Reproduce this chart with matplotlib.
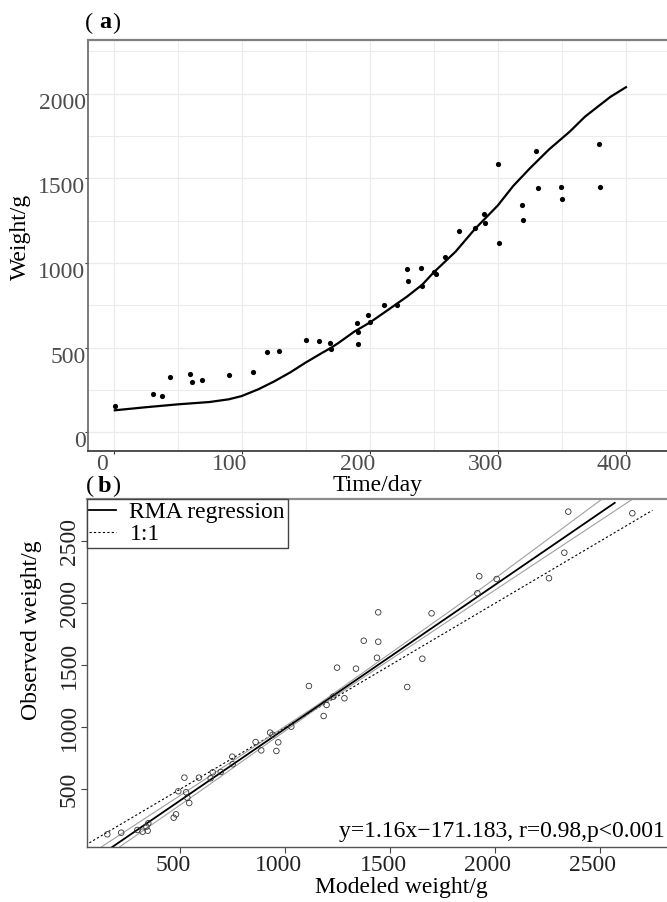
import numpy as np
import matplotlib
matplotlib.use("Agg")
import matplotlib.pyplot as plt
from matplotlib.transforms import ScaledTranslation

plt.rcParams['font.family'] = ['Liberation Serif', 'DejaVu Serif']
plt.rcParams['font.size'] = 16.5

# (a) observed weight over time
obs_day = [1, 31, 38, 44, 60, 61, 69, 90, 109, 120, 129, 150, 160, 169, 170, 190, 191, 191, 199, 200,
           211, 221, 229, 230, 240, 241, 250, 252, 259, 270, 282, 289, 290, 300, 301, 319, 320, 330,
           331, 349, 350, 379, 380]
obs_weight = [155, 228, 216, 329, 344, 295, 307, 338, 356, 472, 482, 545, 537, 529, 492, 644, 592, 523,
              693, 653, 754, 754, 963, 892, 970, 864, 947, 933, 1037, 1191, 1205, 1288, 1234, 1585,
              1118, 1343, 1252, 1660, 1443, 1451, 1380, 1705, 1451]

# (a) simulated growth curve
model_day = [1, 25, 50, 75, 90, 100, 113, 125, 138, 150, 163, 170, 176, 188, 200, 216, 229, 241, 250,
             267, 282, 300, 312, 325, 340, 350, 356, 368, 380, 388, 400]
model_weight = [130, 148, 165, 179, 195, 214, 254, 299, 354, 412, 470, 500, 530, 595, 648, 732, 801,
                872, 945, 1067, 1200, 1340, 1455, 1559, 1671, 1736, 1775, 1864, 1935, 1982, 2038]

# (b) modeled vs observed
modeled = [154, 220, 297, 322, 340, 346, 349, 470, 481, 492, 521, 529, 535, 544, 590, 646, 656, 694,
           749, 751, 860, 887, 929, 941, 959, 968, 1030, 1114, 1184, 1198, 1230, 1248, 1283, 1338,
           1375, 1438, 1444, 1444, 1582, 1654, 1698, 1916, 1925, 2008, 2257, 2330, 2349, 2654]
observed = [137, 150, 172, 158, 198, 166, 226, 271, 298, 484, 594, 476, 432, 389, 594, 589, 637, 640,
            763, 702, 881, 814, 957, 940, 809, 879, 1005, 1333, 1091, 1180, 1247, 1481, 1234, 1473,
            1698, 1561, 1690, 1927, 1325, 1553, 1919, 2081, 2218, 2196, 2202, 2408, 2739, 2726]

rma_slope = 1.16
rma_intercept = -171.183
rma_x = [140, 2570]
one_x = [50, 2750]
band_up_x = [127, 600, 1150, 1900, 2510]
band_up_y = [37, 560, 1175, 2075, 2841]
band_lo_x = [214, 600, 1150, 1900, 2656]
band_lo_y = [37, 490, 1150, 1995, 2841]

W, H = 667, 902
fig = plt.figure(figsize=(W / 100, H / 100), dpi=100)


def box(l, t, r, b):
    return [l / W, 1 - b / H, (r - l) / W, (b - t) / H]


def shift(labels, dx, dy):
    for lab in labels:
        lab.set_transform(lab.get_transform() + ScaledTranslation(dx / 100, dy / 100, fig.dpi_scale_trans))


# ---------- panel a ----------
ax1 = fig.add_axes(box(88.3, 40, 690, 451))
ax1.plot(model_day, model_weight, color='black', lw=1.6, zorder=3)
ax1.scatter(obs_day, obs_weight, s=14, color='black', zorder=4, linewidths=0)
ax1.set_xlim(-19.7, (690 - 114.3) / 1.32)
ax1.set_ylim(-110.4, 2317)
ax1.set_xticks([0, 100, 200, 300, 400])
ax1.set_xticks([50, 150, 250, 350, 450], minor=True)
ax1.set_yticks([0, 500, 1000, 1500, 2000])
ax1.set_yticks([250, 750, 1250, 1750, 2250], minor=True)
ax1.grid(True, which='major', color='#ebebeb', lw=0.9)
ax1.grid(True, which='minor', color='#ebebeb', lw=0.7)
ax1.set_axisbelow(True)
ax1.tick_params(which='major', direction='out', length=2, width=0.8, color='#333333',
                labelcolor='#4d4d4d', labelsize=17, pad=0)
ax1.tick_params(which='minor', length=0)
ax1.spines['right'].set_visible(False)
ax1.spines['top'].set_color('#808080')
ax1.spines['top'].set_linewidth(1.6)
ax1.spines['left'].set_color('#707070')
ax1.spines['left'].set_linewidth(1.3)
ax1.spines['bottom'].set_color('#404040')
ax1.spines['bottom'].set_linewidth(1.3)
shift(ax1.get_xticklabels(), -12, 0)
shift(ax1.get_yticklabels(), 0, -7)

fig.text(20 / W, 1 - 237 / H, 'Weight/g', rotation=90, ha='center', va='center', fontsize=17)
fig.text(378 / W, 1 - 485 / H, 'Time/day', ha='center', va='center', fontsize=17)
fig.text(85 / W, 1 - 23 / H, '(', ha='left', va='center', fontsize=17.5)
fig.text(99 / W, 1 - 23 / H, 'a', ha='left', va='center', fontsize=17.5, fontweight='bold')
fig.text(112 / W, 1 - 23 / H, ')', ha='left', va='center', fontsize=17.5)

# ---------- panel b ----------
ax2 = fig.add_axes(box(86.5, 499, 690, 846.7))
ax2.plot(one_x, one_x, color='black', lw=0.8, ls=(0, (2, 2)), label='1:1', zorder=2)
ax2.plot(band_up_x, band_up_y, color='#a0a0a0', lw=0.8, zorder=2)
ax2.plot(band_lo_x, band_lo_y, color='#a0a0a0', lw=0.8, zorder=2)
rx = np.array(rma_x)
ax2.plot(rx, rma_slope * rx + rma_intercept, color='black', lw=1.3, label='RMA regression', zorder=3)
ax2.scatter(modeled, observed, s=16, facecolors='none', edgecolors='#333333', linewidths=0.6, zorder=4)
ax2.set_xlim(54.8, (690 - 75) / 0.21)
ax2.set_ylim(37.1, 2841)
ax2.set_xticks([500, 1000, 1500, 2000, 2500])
ax2.set_yticks([500, 1000, 1500, 2000, 2500])
ax2.tick_params(direction='out', length=4.3, width=0.8, color='#444444', labelcolor='#222222',
                labelsize=17)
ax2.tick_params(axis='x', pad=1.5)
ax2.tick_params(axis='y', pad=0.5, labelrotation=90)
for lab in ax2.get_yticklabels():
    lab.set_va('center')
ax2.spines['right'].set_visible(False)
ax2.spines['top'].set_color('#8c8c8c')
ax2.spines['top'].set_linewidth(1.6)
for s in ['left', 'bottom']:
    ax2.spines[s].set_color('#555555')
    ax2.spines[s].set_linewidth(1.0)
shift(ax2.get_xticklabels(), -7, 0)

h, l = ax2.get_legend_handles_labels()
leg = ax2.legend(h[::-1], l[::-1], loc='upper left', bbox_to_anchor=(0, 1), borderaxespad=0,
                 fancybox=False, framealpha=1, edgecolor='#444444', fontsize=17,
                 handlelength=1.15, handletextpad=0.55, borderpad=0.12, labelspacing=0.0)
leg.get_frame().set_linewidth(1.0)

fig.text(32 / W, 1 - 630 / H, 'Observed weight/g', rotation=90, ha='center', va='center', fontsize=17)
fig.text(401 / W, 1 - 887 / H, 'Modeled weight/g', ha='center', va='center', fontsize=17)
fig.text(665 / W, 1 - 832 / H, 'y=1.16x\u2212171.183, r=0.98,p<0.001', ha='right', va='center',
         fontsize=17)
fig.text(86 / W, 1 - 486 / H, '(', ha='left', va='center', fontsize=17.5)
fig.text(98 / W, 1 - 486 / H, 'b', ha='left', va='center', fontsize=17.5, fontweight='bold')
fig.text(112 / W, 1 - 486 / H, ')', ha='left', va='center', fontsize=17.5)

fig.savefig('out.png', dpi=100)
